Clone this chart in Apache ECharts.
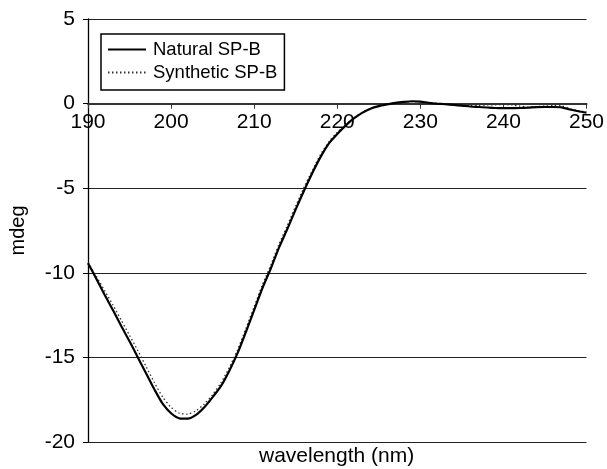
<!DOCTYPE html>
<html>
<head>
<meta charset="utf-8">
<script src="https://cdn.jsdelivr.net/npm/echarts@6/dist/echarts.min.js"></script>
<style>
  html, body { margin: 0; padding: 0; background: #fff; }
  #chart { width: 607px; height: 469px; }
</style>
</head>
<body>
<div id="chart"></div>
<script>
// CD spectra of natural and synthetic SP-B (ellipticity in mdeg vs wavelength)
const wavelengths = [];
for (let w = 190; w <= 250; w++) wavelengths.push(w);

const naturalSPB = [
  -9.43, -10.35, -11.3, -12.2, -13.15, -14.05, -15.0, -15.95, -16.9, -17.75,
  -18.3, -18.6, -18.62, -18.4, -17.95, -17.35, -16.7, -15.8, -14.75, -13.5,
  -12.2, -10.9, -9.75, -8.5, -7.4, -6.25, -5.15, -4.1, -3.15, -2.35,
  -1.8, -1.3, -0.88, -0.55, -0.3, -0.15, -0.05, 0.04, 0.1, 0.14,
  0.12, 0.05, 0.0, -0.04, -0.08, -0.12, -0.17, -0.2, -0.23, -0.26,
  -0.27, -0.27, -0.26, -0.24, -0.21, -0.2, -0.2, -0.22, -0.35, -0.45,
  -0.53
];

const syntheticSPB = [
  -9.4, -10.2, -11.05, -11.9, -12.8, -13.7, -14.6, -15.55, -16.5, -17.35,
  -17.95, -18.3, -18.35, -18.15, -17.75, -17.2, -16.5, -15.6, -14.55, -13.3,
  -12.0, -10.7, -9.55, -8.3, -7.2, -6.05, -4.95, -3.95, -3.0, -2.25,
  -1.7, -1.25, -0.85, -0.52, -0.3, -0.15, -0.05, 0.03, 0.08, 0.12,
  0.1, 0.05, 0.0, -0.03, -0.06, -0.08, -0.1, -0.1, -0.08, -0.07,
  -0.06, -0.08, -0.15, -0.2, -0.18, -0.14, -0.12, -0.14, -0.3, -0.42,
  -0.5
];

const xTicks = { min: 190, max: 250, step: 10 };
const yTicks = { min: -20, max: 5, step: 5 };

const font = '"Liberation Sans", Arial, Helvetica, sans-serif';
const chart = echarts.init(document.getElementById('chart'), null, { renderer: 'canvas' });

const pair = (xs, ys) => xs.map((x, i) => [x, ys[i]]);

// plot box
const gridTop = 19, gridBottom = 27, chartH = 469;
const plotH = chartH - gridTop - gridBottom;
// lift the wavelength axis from the bottom edge up to mdeg = 0
const zeroLift = plotH * (0 - yTicks.min) / (yTicks.max - yTicks.min);

chart.setOption({
  animation: false,
  backgroundColor: '#fff',
  grid: { left: 88, right: 18, top: gridTop, bottom: gridBottom, containLabel: false },
  legend: {
    orient: 'vertical',
    left: 101,
    top: 34,
    padding: [6, 7, 8, 6],
    itemGap: 4,
    itemWidth: 38,
    itemHeight: 14,
    borderColor: '#000',
    borderWidth: 1.5,
    backgroundColor: '#fff',
    itemStyle: { opacity: 0 },
    textStyle: { fontFamily: font, fontSize: 18.5, color: '#000', padding: [0, 0, 0, 2] },
    data: ['Natural SP-B', 'Synthetic SP-B']
  },
  xAxis: {
    type: 'value',
    position: 'bottom',
    offset: -zeroLift,
    min: xTicks.min,
    max: xTicks.max,
    interval: xTicks.step,
    axisLine: { show: true, onZero: false, lineStyle: { color: '#333', width: 2 } },
    axisTick: { show: true, length: 5, lineStyle: { color: '#333', width: 1 } },
    axisLabel: {
      show: true, margin: 8, fontFamily: font, fontSize: 21, color: '#000',
      showMinLabel: true, showMaxLabel: true
    },
    splitLine: { show: false }
  },
  yAxis: {
    type: 'value',
    min: yTicks.min,
    max: yTicks.max,
    interval: yTicks.step,
    name: 'mdeg',
    nameLocation: 'middle',
    nameRotate: 90,
    nameGap: 60,
    nameTextStyle: { fontFamily: font, fontSize: 20, color: '#000' },
    axisLine: { show: true, lineStyle: { color: '#000', width: 1.3 } },
    axisTick: { show: true, length: 5, lineStyle: { color: '#000', width: 1 } },
    axisLabel: { margin: 13, fontFamily: font, fontSize: 21, color: '#000' },
    splitLine: { show: true, lineStyle: { color: '#222', width: 1.2 } }
  },
  graphic: [{
    type: 'text',
    left: 339 - 80,
    top: 446,
    style: {
      text: 'wavelength (nm)',
      font: '21px ' + font,
      fill: '#000'
    }
  }],
  series: [
    {
      name: 'Natural SP-B',
      type: 'line',
      data: pair(wavelengths, naturalSPB),
      symbol: 'none',
      smooth: 0.25,
      color: '#000',
      lineStyle: { color: '#000', width: 2.2, type: 'solid' },
      z: 3
    },
    {
      name: 'Synthetic SP-B',
      type: 'line',
      data: pair(wavelengths, syntheticSPB),
      symbol: 'none',
      smooth: 0.25,
      color: '#333',
      lineStyle: { color: '#333', width: 1.3, type: [1.5, 2.5] },
      z: 2
    }
  ]
});
</script>
</body>
</html>
